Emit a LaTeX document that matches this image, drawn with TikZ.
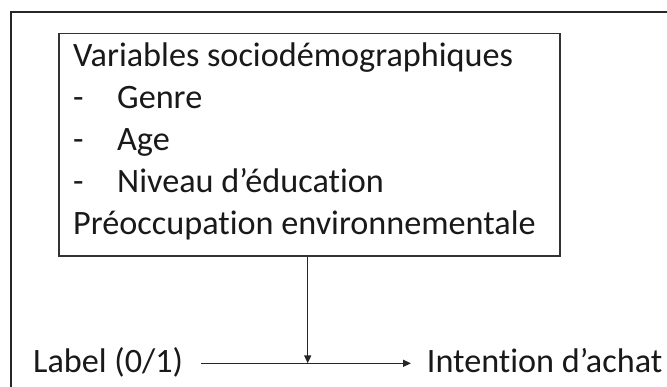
\documentclass[tikz,border=0pt]{standalone}
\usepackage{fontspec}
\setmainfont{Carlito}[Ligatures={NoCommon}]
\usetikzlibrary{arrows.meta}
\begin{document}
\begin{tikzpicture}[x=1pt,y=-1pt,
  frameline/.style={line width=1.7pt,draw=black!85},
  boxstyle/.style={draw=black!80,line width=1.6pt,rectangle,inner sep=0pt,anchor=north west},
  txt/.style={anchor=base west,inner sep=0pt,text=black!90,font=\fontsize{34.2}{41.9}\selectfont},
  conn/.style={line width=1.5pt,draw=black!85,-{Triangle[length=8pt,width=7pt]}}]
\useasboundingbox (0,0) rectangle (667,387);
\fill[white] (0,0) rectangle (667,387);
% outer frame (cut by the page edges)
\draw[frameline] (11,387) -- (11,11.7) -- (667,11.7);
% box
\node[boxstyle,minimum width=501pt,minimum height=222.3pt] (box) at (58.3,32.7) {};
\node[txt,align=left] (vars) at (73,234.6) {Variables sociodémographiques\\
\makebox[44pt][l]{-}Genre\\
\makebox[44pt][l]{-}Age\\
\makebox[44pt][l]{-}Niveau d’éducation\\
Préoccupation environnementale};
% bottom line
\node[txt] (label) at (33,372.3) {Label (0/1)};
\node[txt] (intent) at (426.7,372.3) {Intention d’achat};
\coordinate (start) at (201,363.3);
\coordinate (tip) at (411,363.3);
\coordinate (meet) at (307.7,363.3);
\draw[conn] (start) -- (tip);
\draw[conn] (box.south -| meet) -- (meet);
\end{tikzpicture}
\end{document}
